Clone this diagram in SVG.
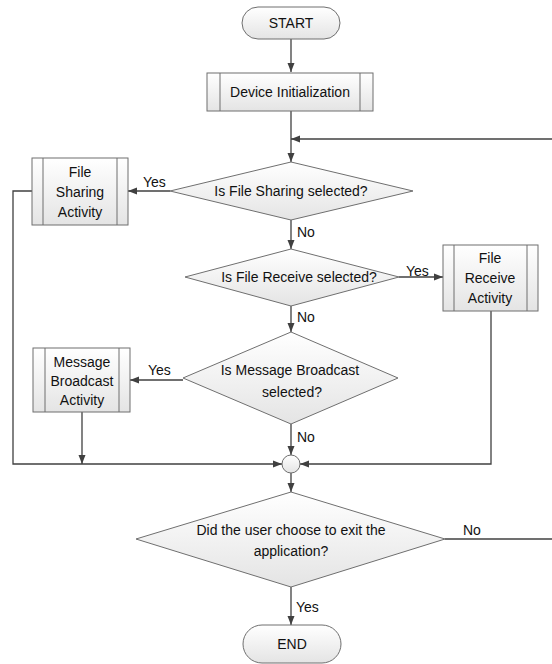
<svg xmlns="http://www.w3.org/2000/svg" width="552" height="664" viewBox="0 0 552 664">
<style>
.shape{fill:url(#g);stroke:#6f6f6f;stroke-width:1}
.inner{stroke:#6f6f6f;stroke-width:1;fill:none}
.conn{fill:none;stroke:#404040;stroke-width:1.3}
text{font-family:"Liberation Sans",Arial,sans-serif;font-size:14px;fill:#111}
.c{text-anchor:middle}
</style>
<defs>
<linearGradient id="g" x1="0" y1="0" x2="0" y2="1">
<stop offset="0" stop-color="#ffffff"/>
<stop offset="1" stop-color="#e4e4e4"/>
</linearGradient>
<marker id="a" markerUnits="userSpaceOnUse" markerWidth="10" markerHeight="8" refX="9" refY="4" orient="auto">
<path d="M0,0.5 L9,4 L0,7.5 z" fill="#404040"/>
</marker>
</defs>
<g id="connectors">
<path class="conn" d="M291,39 V72" marker-end="url(#a)"/>
<path class="conn" d="M291,111 V162" marker-end="url(#a)"/>
<path class="conn" d="M552,139 H291" marker-end="url(#a)"/>
<path class="conn" d="M170,191 H128" marker-end="url(#a)"/>
<path class="conn" d="M291,220 V249" marker-end="url(#a)"/>
<path class="conn" d="M399,277 H443" marker-end="url(#a)"/>
<path class="conn" d="M291,306 V332" marker-end="url(#a)"/>
<path class="conn" d="M183,380 H130" marker-end="url(#a)"/>
<path class="conn" d="M291,424 V455" marker-end="url(#a)"/>
<path class="conn" d="M32,191 H13 V464 H282" marker-end="url(#a)"/>
<path class="conn" d="M82,412 V464" marker-end="url(#a)"/>
<path class="conn" d="M491,311 V464 H300" marker-end="url(#a)"/>
<path class="conn" d="M291,473 V492" marker-end="url(#a)"/>
<path class="conn" d="M291,587 V625" marker-end="url(#a)"/>
<path class="conn" d="M445,539 H552"/>
<text x="143" y="187">Yes</text>
<text x="297" y="237">No</text>
<text x="406" y="276">Yes</text>
<text x="297" y="322">No</text>
<text x="148" y="375">Yes</text>
<text x="297" y="442">No</text>
<text x="463" y="535">No</text>
<text x="296" y="612">Yes</text>
</g>
<g id="start">
<rect class="shape" x="242" y="7" width="98" height="32" rx="16"/>
<text class="c" x="291" y="28">START</text>
</g>
<g id="device-init">
<rect class="shape" x="207" y="73" width="166" height="38"/>
<path class="inner" d="M220,73 V111 M360,73 V111"/>
<text class="c" x="290" y="97">Device Initialization</text>
</g>
<g id="d1">
<polygon class="shape" points="291,162 413,191 291,220 170,191"/>
<text class="c" x="291" y="196">Is File Sharing selected?</text>
</g>
<g id="file-sharing">
<rect class="shape" x="32" y="158" width="96" height="67"/>
<path class="inner" d="M43,158 V225 M117,158 V225"/>
<text class="c" x="80" y="177">File</text>
<text class="c" x="80" y="197">Sharing</text>
<text class="c" x="80" y="217">Activity</text>
</g>
<g id="d2">
<polygon class="shape" points="291,249 399,277 291,306 185,277"/>
<text class="c" x="299" y="282">Is File Receive selected?</text>
</g>
<g id="file-receive">
<rect class="shape" x="443" y="245" width="95" height="66"/>
<path class="inner" d="M454,245 V311 M527,245 V311"/>
<text class="c" x="490" y="263">File</text>
<text class="c" x="490" y="283">Receive</text>
<text class="c" x="490" y="303">Activity</text>
</g>
<g id="d3">
<polygon class="shape" points="291,332 398,378 291,424 183,378"/>
<text class="c" x="290" y="375">Is Message Broadcast</text>
<text class="c" x="292" y="397">selected?</text>
</g>
<g id="message-broadcast">
<rect class="shape" x="33" y="348" width="97" height="64"/>
<path class="inner" d="M45,348 V412 M119,348 V412"/>
<text class="c" x="82" y="367">Message</text>
<text class="c" x="82" y="386">Broadcast</text>
<text class="c" x="82" y="405">Activity</text>
</g>
<g id="merge">
<circle class="shape" cx="291" cy="464" r="9"/>
</g>
<g id="d4">
<polygon class="shape" points="291,492 445,539 291,587 136,539"/>
<text class="c" x="291" y="535">Did the user choose to exit the</text>
<text class="c" x="291" y="556">application?</text>
</g>
<g id="end">
<rect class="shape" x="243" y="625" width="98" height="38" rx="19"/>
<text class="c" x="292" y="649">END</text>
</g>
</svg>
